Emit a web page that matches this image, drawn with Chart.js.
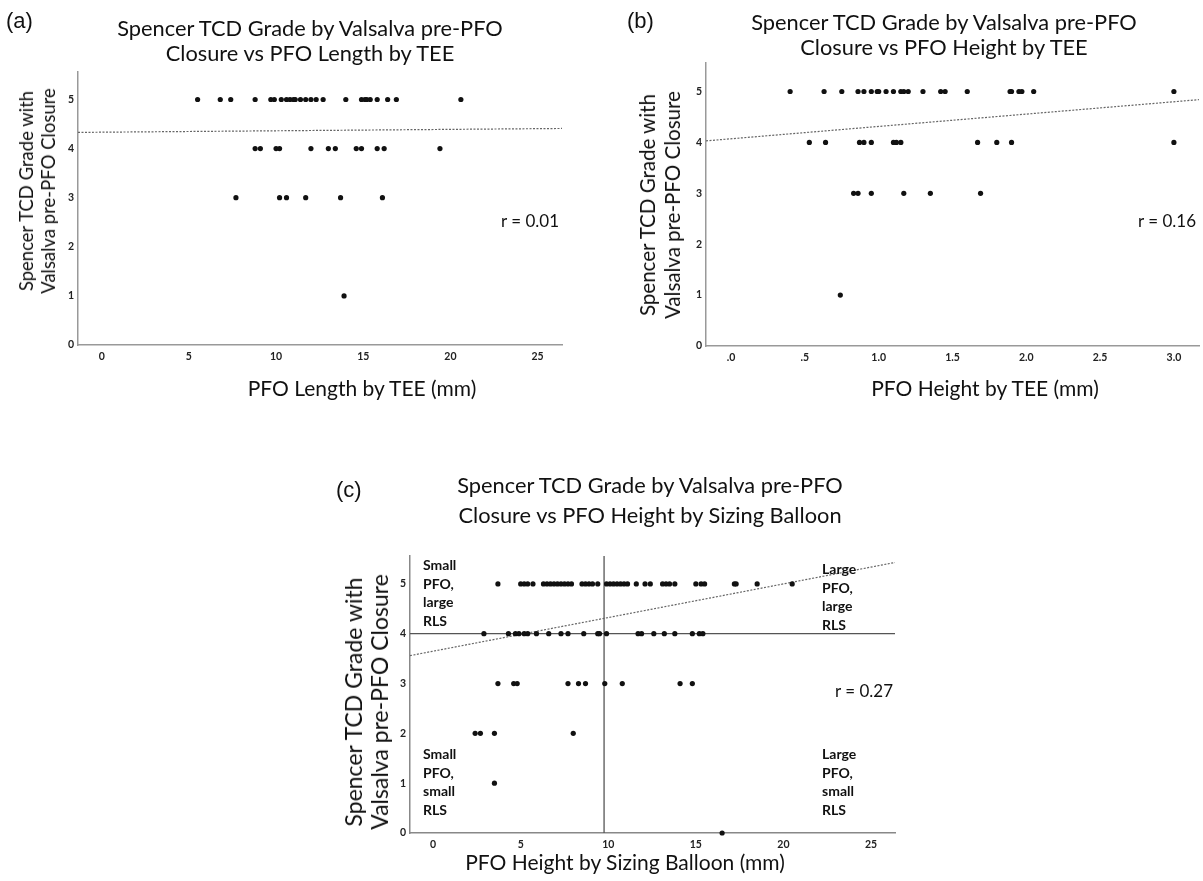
<!DOCTYPE html>
<html>
<head>
<meta charset="utf-8">
<script src="https://cdn.jsdelivr.net/npm/chart.js@4.4.1/dist/chart.umd.min.js"></script>
<style>
  body { margin: 0; background: #fff; font-family: Lato, "Open Sans", sans-serif; color: #111; }
  #page { position: relative; width: 1203px; height: 881px; overflow: hidden; }
  .box { position: absolute; }
  .txt { position: absolute; white-space: nowrap; transform: translate(-50%, -50%); text-align: center; }
  .tag { position: absolute; font-family: "Liberation Sans", Arial, sans-serif; font-size: 22px; transform: translateY(-50%); }
  .title { font-size: 21.8px; line-height: 25px; }
  .xtitle { font-size: 21px; }
  .ytitle { transform: translate(-50%, -50%) rotate(-90deg); }
  .rlab { font-size: 17px; }
  .quad { position: absolute; font-weight: bold; font-size: 14px; line-height: 18.5px; white-space: nowrap; }
</style>
</head>
<body>
<div id="page">
  <div class="box" style="left:0;top:0;width:600px;height:400px"><canvas id="chartA" width="600" height="400"></canvas></div>
  <div class="box" style="left:600px;top:0;width:603px;height:400px"><canvas id="chartB" width="603" height="400"></canvas></div>
  <div class="box" style="left:330px;top:460px;width:580px;height:421px"><canvas id="chartC" width="580" height="421"></canvas></div>

  <div class="tag" style="left:6px;top:21px">(a)</div>
  <div class="txt title" style="left:310px;top:40px">Spencer TCD Grade by Valsalva pre-PFO<br>Closure vs PFO Length by TEE</div>
  <div class="txt ytitle" style="left:37px;top:191px;font-size:18.5px;line-height:22px">Spencer TCD Grade with<br>Valsalva pre-PFO Closure</div>
  <div class="txt xtitle" style="left:362px;top:387px">PFO Length by TEE (mm)</div>
  <div class="txt rlab" style="left:530px;top:220px">r = 0.01</div>

  <div class="tag" style="left:627px;top:21px">(b)</div>
  <div class="txt title" style="left:944px;top:34px">Spencer TCD Grade by Valsalva pre-PFO<br>Closure vs PFO Height by TEE</div>
  <div class="txt ytitle" style="left:660px;top:205px;font-size:20.5px;line-height:25px">Spencer TCD Grade with<br>Valsalva pre-PFO Closure</div>
  <div class="txt xtitle" style="left:985px;top:387px">PFO Height by TEE (mm)</div>
  <div class="txt rlab" style="left:1167px;top:220px">r = 0.16</div>

  <div class="tag" style="left:336px;top:490px">(c)</div>
  <div class="txt title" style="left:650px;top:500px;line-height:30px">Spencer TCD Grade by Valsalva pre-PFO<br>Closure vs PFO Height by Sizing Balloon</div>
  <div class="txt ytitle" style="left:366px;top:702px;font-size:23px;line-height:26px">Spencer TCD Grade with<br>Valsalva pre-PFO Closure</div>
  <div class="txt xtitle" style="left:625px;top:861px">PFO Height by Sizing Balloon (mm)</div>
  <div class="txt rlab" style="left:864px;top:690px">r = 0.27</div>

  <div class="quad" style="left:423px;top:556px">Small<br>PFO,<br>large<br>RLS</div>
  <div class="quad" style="left:822px;top:560px">Large<br>PFO,<br>large<br>RLS</div>
  <div class="quad" style="left:423px;top:745px">Small<br>PFO,<br>small<br>RLS</div>
  <div class="quad" style="left:822px;top:745px">Large<br>PFO,<br>small<br>RLS</div>
</div>

<script>
// ---- (a) PFO length by TEE ----
const lengthTEE = [
  5.5, 6.8, 7.4, 8.8, 9.7, 9.9, 10.3, 10.6, 10.8, 11.0, 11.1, 11.4, 11.7, 12.0, 12.3, 12.7,
  14.0, 14.9, 15.1, 15.2, 15.4, 15.8, 16.4, 16.9, 20.6,
  8.8, 9.1, 10.0, 10.2, 12.0, 13.0, 13.4, 14.6, 14.9, 15.8, 16.2, 19.4,
  7.7, 10.2, 10.6, 11.7, 13.7, 16.1,
  13.9
];
const gradeA = [
  5, 5, 5, 5, 5, 5, 5, 5, 5, 5, 5, 5, 5, 5, 5, 5,
  5, 5, 5, 5, 5, 5, 5, 5, 5,
  4, 4, 4, 4, 4, 4, 4, 4, 4, 4, 4, 4,
  3, 3, 3, 3, 3, 3,
  1
];
const fitA_x = [-1.36, 26.4];
const fitA_y = [4.33, 4.41];

// ---- (b) PFO height by TEE ----
const heightTEE = [
  0.40, 0.63, 0.75, 0.86, 0.90, 0.95, 0.99, 1.00, 1.05, 1.10, 1.15, 1.17, 1.20,
  1.30, 1.42, 1.45, 1.60, 1.89, 1.90, 1.95, 1.97, 2.05, 3.00,
  0.53, 0.64, 0.87, 0.90, 0.95, 1.10, 1.12, 1.15, 1.67, 1.80, 1.90, 3.00,
  0.83, 0.86, 0.95, 1.17, 1.35, 1.69,
  0.74
];
const gradeB = [
  5, 5, 5, 5, 5, 5, 5, 5, 5, 5, 5, 5, 5,
  5, 5, 5, 5, 5, 5, 5, 5, 5, 5,
  4, 4, 4, 4, 4, 4, 4, 4, 4, 4, 4, 4,
  3, 3, 3, 3, 3, 3,
  1
];
const fitB_x = [-0.17, 3.17];
const fitB_y = [4.03, 4.84];

// ---- (c) PFO height by sizing balloon ----
const heightBalloon = [
  3.7, 5.0, 5.2, 5.4, 5.7, 6.3, 6.5, 6.7, 6.9, 7.1, 7.3, 7.5, 7.7, 7.9, 8.5, 8.7, 8.9, 9.1, 9.4, 9.9,
  10.1, 10.3, 10.5, 10.7, 10.9, 11.1, 11.6, 12.1, 12.4, 13.1, 13.3, 13.5, 13.8, 15.0, 15.3, 15.5,
  17.2, 17.3, 18.5, 20.5,
  2.9, 4.3, 4.7, 4.9, 5.2, 5.4, 5.9, 6.6, 7.3, 7.7, 8.6, 9.4, 9.5, 9.9, 11.7, 11.9, 12.6, 13.2,
  13.8, 14.8, 15.2, 15.4,
  3.7, 4.6, 4.8, 7.7, 8.3, 8.7, 9.8, 10.8, 14.1, 14.8,
  2.4, 2.7, 3.5, 8.0,
  3.5,
  16.5
];
const gradeC = [
  5, 5, 5, 5, 5, 5, 5, 5, 5, 5, 5, 5, 5, 5, 5, 5, 5, 5, 5, 5,
  5, 5, 5, 5, 5, 5, 5, 5, 5, 5, 5, 5, 5, 5, 5, 5,
  5, 5, 5, 5,
  4, 4, 4, 4, 4, 4, 4, 4, 4, 4, 4, 4, 4, 4, 4, 4, 4, 4,
  4, 4, 4, 4,
  3, 3, 3, 3, 3, 3, 3, 3, 3, 3,
  2, 2, 2, 2,
  1,
  0
];
const fitC_x = [-1.32, 26.37];
const fitC_y = [3.56, 5.43];
const cutoffHeight = 9.76;   // vertical reference line
const cutoffGrade = 4;       // horizontal reference line

const yTicks = [0, 1, 2, 3, 4, 5];
const yMax = 5.56;

function pts(xs, ys) {
  return xs.map((x, i) => ({ x: x, y: ys[i] }));
}

function makeChart(id, cfg) {
  const tickFont = { family: 'Lato, sans-serif', size: 10.5, weight: 'bold' };
  const datasets = [{
    type: 'scatter',
    data: pts(cfg.xs, cfg.ys),
    backgroundColor: '#111',
    borderWidth: 0,
    pointRadius: 2.6,
    clip: false
  }, {
    type: 'line',
    data: pts(cfg.fitX, cfg.fitY),
    borderColor: '#666',
    borderWidth: 1.2,
    borderDash: [2, 1.5],
    pointRadius: 0,
    fill: false
  }].concat(cfg.extra || []);

  return new Chart(document.getElementById(id), {
    type: 'scatter',
    data: { datasets: datasets },
    options: {
      responsive: false,
      animation: false,
      devicePixelRatio: 1,
      layout: { padding: cfg.pad },
      plugins: { legend: { display: false }, tooltip: { enabled: false } },
      scales: {
        x: {
          type: 'linear',
          min: cfg.xMin, max: cfg.xMax,
          grid: { display: false, drawTicks: false },
          border: { color: cfg.axisColor, width: 1.5 },
          ticks: {
            stepSize: cfg.xStep, includeBounds: false, padding: 5,
            color: '#222', font: tickFont,
            callback: cfg.xFmt
          },
          afterFit: s => { s.height = cfg.xH; }
        },
        y: {
          type: 'linear',
          min: 0, max: yMax,
          grid: { display: false, drawTicks: false },
          border: { color: cfg.axisColor, width: 1.5 },
          afterBuildTicks: s => { s.ticks = yTicks.map(v => ({ value: v })); },
          ticks: { padding: 4, color: '#222', font: tickFont },
          afterFit: s => { s.width = cfg.yW; }
        }
      }
    }
  });
}

makeChart('chartA', {
  xs: lengthTEE, ys: gradeA, fitX: fitA_x, fitY: fitA_y,
  xMin: -1.36, xMax: 26.4, xStep: 5, axisColor: '#999',
  pad: { left: 0, top: 72, right: 38, bottom: 0 }, yW: 78, xH: 55
});

makeChart('chartB', {
  xs: heightTEE, ys: gradeB, fitX: fitB_x, fitY: fitB_y,
  xMin: -0.17, xMax: 3.17, xStep: 0.5, axisColor: '#999',
  xFmt: v => v.toFixed(1).replace(/^0/, ''),
  pad: { left: 0, top: 63, right: 4, bottom: 0 }, yW: 106, xH: 54
});

makeChart('chartC', {
  xs: heightBalloon, ys: gradeC, fitX: fitC_x, fitY: fitC_y,
  xMin: -1.32, xMax: 26.37, xStep: 5, axisColor: '#888',
  pad: { left: 0, top: 96, right: 15, bottom: 0 }, yW: 80, xH: 48,
  extra: [{
    type: 'line',
    data: [{ x: cutoffHeight, y: 0 }, { x: cutoffHeight, y: yMax }],
    borderColor: '#555', borderWidth: 1.3, pointRadius: 0
  }, {
    type: 'line',
    data: [{ x: -1.32, y: cutoffGrade }, { x: 26.37, y: cutoffGrade }],
    borderColor: '#555', borderWidth: 1.3, pointRadius: 0
  }]
});
</script>
</body>
</html>
